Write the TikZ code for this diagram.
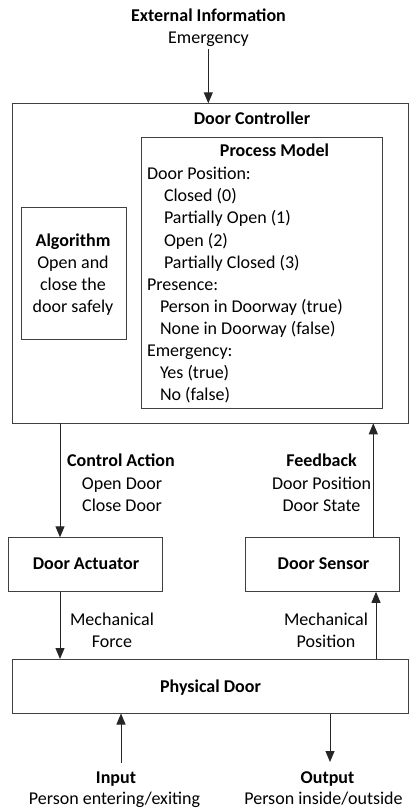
\documentclass[tikz,border=0pt]{standalone}
\usepackage{fontspec}
\setmainfont{Carlito}
\usetikzlibrary{arrows.meta}
\begin{document}
\begin{tikzpicture}[x=1pt,y=-1pt,
  box/.style={draw=black!75, line width=1pt, fill=white, inner sep=0pt, outer sep=0pt, anchor=north west},
  txt/.style={inner sep=0pt, outer sep=0pt, anchor=base, text=black, font=\fontsize{18}{22}\selectfont},
  ltxt/.style={txt, anchor=base west},
  bt/.style={txt, font=\fontsize{18}{22}\selectfont\bfseries},
  arr/.style={draw=black!85, line width=1pt, -{Triangle[length=11pt,width=9pt]}}]
\useasboundingbox[fill=white] (0,0) rectangle (409,810);

% boxes
\node[box, minimum width=395.6pt, minimum height=320pt] (ctrl) at (12.7,103.3) {};
\node[box, minimum width=241pt, minimum height=270pt] (pm) at (141,138) {};
\node[box, minimum width=105pt, minimum height=131pt] (alg) at (21,208) {};
\node[box, minimum width=154.5pt, minimum height=54.5pt] (act) at (8.3,537.3) {};
\node[box, minimum width=154.5pt, minimum height=54.5pt] (sen) at (245,537.3) {};
\node[box, minimum width=395.6pt, minimum height=54.5pt] (door) at (12.7,659) {};

% external information
\node[bt] (extT) at (208.5,21.7) {External Information};
\node[txt] (extE) at (208.5,44) {Emergency};

% controller
\node[bt] (ctrlT) at (252,125) {Door Controller};

% process model
\node[bt] (pmT) at (274.5,157) {Process Model};
\node[ltxt] (pm1) at (147,180) {Door Position:};
\node[ltxt] (pm2) at (164,202) {Closed (0)};
\node[ltxt] (pm3) at (164,224) {Partially Open (1)};
\node[ltxt] (pm4) at (164,246) {Open (2)};
\node[ltxt] (pm5) at (164,268) {Partially Closed (3)};
\node[ltxt] (pm6) at (147,290) {Presence:};
\node[ltxt] (pm7) at (160,312) {Person in Doorway (true)};
\node[ltxt] (pm8) at (160,334) {None in Doorway (false)};
\node[ltxt] (pm9) at (147,356) {Emergency:};
\node[ltxt] (pm10) at (160,378) {Yes (true)};
\node[ltxt] (pm11) at (160,400) {No (false)};

% algorithm
\node[bt] (algT) at (73,246) {Algorithm};
\node[txt] (alg1) at (73,268) {Open and};
\node[txt] (alg2) at (73,290) {close the};
\node[txt] (alg3) at (73,312) {door safely};

% control action / feedback labels
\node[bt] (caT) at (121,466.7) {Control Action};
\node[txt] (ca1) at (122,489) {Open Door};
\node[txt] (ca2) at (122,511.7) {Close Door};
\node[bt] (fbT) at (321.5,466.7) {Feedback};
\node[txt] (fb1) at (321.5,489) {Door Position};
\node[txt] (fb2) at (321.5,511.7) {Door State};

% actuator / sensor text
\node[bt] (actT) at (86,569) {Door Actuator};
\node[bt] (senT) at (323.5,569) {Door Sensor};

% mechanical labels
\node[txt] (mf1) at (112,625) {Mechanical};
\node[txt] (mf2) at (112,647) {Force};
\node[txt] (mp1) at (326,625) {Mechanical};
\node[txt] (mp2) at (326,647) {Position};

% physical door
\node[bt] (doorT) at (210.5,692) {Physical Door};

% input / output
\node[bt] (inT) at (116,783) {Input};
\node[txt] (in1) at (114.5,804) {Person entering/exiting};
\node[bt] (outT) at (327.5,783) {Output};
\node[txt] (out1) at (323.5,804) {Person inside/outside};

% connector x positions and free ends
\coordinate (xe) at (208.3,0);
\coordinate (xa) at (60,0);
\coordinate (xf) at (373.3,0);
\coordinate (xp) at (376,0);
\coordinate (xi) at (121,0);
\coordinate (xo) at (330,0);
\coordinate (eTop) at (208.3,49);
\coordinate (inBot) at (121,763);
\coordinate (outBot) at (330,762);

% connectors
\draw[arr] (eTop) -- (xe |- ctrl.north);
\draw[arr] (xa |- ctrl.south) -- (xa |- act.north);
\draw[arr] (xf |- sen.north) -- (xf |- ctrl.south);
\draw[arr] (xa |- act.south) -- (xa |- door.north);
\draw[arr] (xp |- door.north) -- (xp |- sen.south);
\draw[arr] (inBot) -- (xi |- door.south);
\draw[arr] (xo |- door.south) -- (outBot);
\end{tikzpicture}
\end{document}
